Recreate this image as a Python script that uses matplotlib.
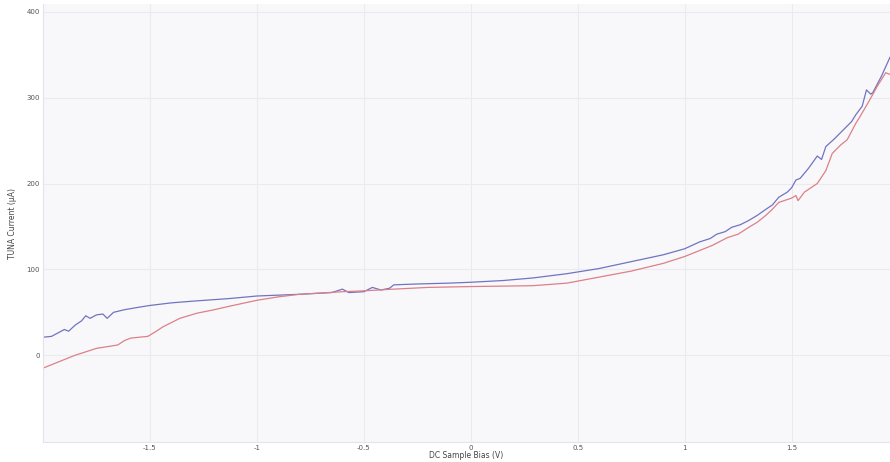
import matplotlib.pyplot as plt
import numpy as np

# Curva azul (barrido 1)
v_azul = [-2.00, -1.96, -1.93, -1.90, -1.88, -1.85, -1.82, -1.80, -1.78, -1.75,
          -1.72, -1.70, -1.67, -1.62, -1.55, -1.50, -1.40, -1.30, -1.13, -1.00,
          -0.80, -0.65, -0.60, -0.57, -0.50, -0.46, -0.42, -0.38, -0.36, -0.25,
          -0.10, 0.00, 0.15, 0.29, 0.45, 0.60, 0.75, 0.90, 1.00, 1.07,
          1.12, 1.15, 1.19, 1.22, 1.26, 1.30, 1.34, 1.38, 1.41, 1.44, 1.48,
          1.50, 1.52, 1.54, 1.58, 1.62, 1.64, 1.66, 1.70, 1.74, 1.78,
          1.80, 1.83, 1.85, 1.87, 1.88, 1.92, 1.96]
i_azul = [21, 22, 26, 30, 28, 35, 40, 46, 43, 47,
          48, 43, 50, 53, 56, 58, 61, 63, 66, 69,
          71, 73, 77, 73, 74, 79, 76, 78, 82, 83,
          84, 85, 87, 90, 95, 101, 109, 117, 124, 132,
          136, 141, 144, 149, 152, 157, 163, 170, 175, 184, 190,
          195, 204, 206, 218, 232, 228, 243, 252, 262, 272,
          280, 290, 309, 304, 306, 325, 347]

# Curva roja (barrido 2)
v_roja = [-2.00, -1.95, -1.91, -1.85, -1.80, -1.75, -1.70, -1.65, -1.62, -1.59,
          -1.55, -1.51, -1.47, -1.44, -1.40, -1.36, -1.28, -1.20, -1.13, -1.00,
          -0.90, -0.80, -0.60, -0.50, -0.36, -0.20, 0.00, 0.29, 0.45, 0.60,
          0.75, 0.90, 1.00, 1.07, 1.13, 1.20, 1.25, 1.30, 1.34, 1.38, 1.41,
          1.44, 1.50, 1.52, 1.53, 1.56, 1.62, 1.66, 1.69, 1.73, 1.76,
          1.80, 1.82, 1.86, 1.90, 1.94, 1.96]
i_roja = [-15, -10, -6, 0, 4, 8, 10, 12, 17, 20,
          21, 22, 28, 33, 38, 43, 49, 53, 57, 64,
          68, 71, 74, 75, 77, 79, 80, 81, 84, 91,
          98, 107, 115, 122, 128, 137, 141, 149, 155, 163, 170,
          178, 183, 186, 180, 190, 200, 215, 235, 245, 251,
          270, 278, 295, 313, 329, 327]

xticks = [-1.5, -1, -0.5, 0, 0.5, 1, 1.5]
xtick_labels = ['-1.5', '-1', '-0.5', '0', '0.5', '1', '1.5']
yticks = [0, 100, 200, 300, 400]

fig = plt.figure(figsize=(8.9, 4.62), dpi=100, facecolor='white')
ax = fig.add_axes([0.0483, 0.0433, 0.9517, 0.948])
ax.set_facecolor('#f8f8fb')

ax.plot(v_azul, i_azul, color='#7074c0', lw=0.9)
ax.plot(v_roja, i_roja, color='#dc8088', lw=0.9)

ax.set_xlim(-2.0, 1.96)
ax.set_ylim(-101, 409)
ax.set_xticks(xticks)
ax.set_xticklabels(xtick_labels)
ax.set_yticks(yticks)

ax.grid(True, color='#eaeaef', lw=0.8)
ax.set_axisbelow(True)
for s in ['top', 'right']:
    ax.spines[s].set_visible(False)
for s in ['left', 'bottom']:
    ax.spines[s].set_color('#e4e4ea')
ax.tick_params(length=0, labelsize=5, labelcolor='#555555', pad=2)

ax.set_xlabel('DC Sample Bias (V)', fontsize=5.5, color='#444444', labelpad=0)
ax.set_ylabel('TUNA Current (µA)', fontsize=5.5, color='#444444')
ax.yaxis.set_label_coords(-0.031, 0.5)

fig.savefig('out.png', dpi=100, facecolor=fig.get_facecolor())
